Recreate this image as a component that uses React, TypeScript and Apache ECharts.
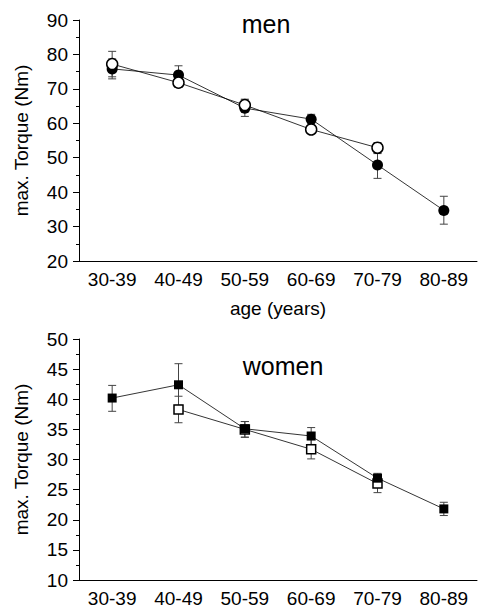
import React, { useEffect, useRef } from "react";
import * as echarts from "echarts";

const categories = ["30-39", "40-49", "50-59", "60-69", "70-79", "80-89"];

// men: filled circles
const menFilled = [75.8, 74.0, 64.4, 61.2, 47.9, 34.7];
const menFilledLow = [72.9, 71.3, 62.0, 59.8, 44.0, 30.7];
const menFilledHigh = [78.7, 76.7, 66.8, 62.6, 51.2, 38.8];
// men: open circles
const menOpen = [77.2, 71.8, 65.3, 58.2, 52.9, null];
const menOpenLow = [73.5, 70.4, 63.6, 57.3, 51.4, null];
const menOpenHigh = [80.9, 73.2, 67.0, 59.1, 54.4, null];

// women: filled squares
const womenFilled = [40.2, 42.4, 35.1, 33.9, 26.9, 21.8];
const womenFilledLow = [38.0, 39.0, 33.7, 32.5, 26.2, 20.7];
const womenFilledHigh = [42.3, 45.9, 36.3, 35.3, 27.7, 22.9];
// women: open squares
const womenOpen = [null, 38.3, 35.0, 31.7, 26.0, null];
const womenOpenLow = [null, 36.1, 33.7, 30.1, 24.5, null];
const womenOpenHigh = [null, 40.5, 36.3, 33.3, 27.5, null];

const menTicks = { min: 20, max: 90, interval: 10 };
const womenTicks = { min: 10, max: 50, interval: 5 };

const FONT = "'Liberation Sans', Arial, sans-serif";

function errData(low: (number | null)[], high: (number | null)[]) {
  const out: number[][] = [];
  low.forEach((l, i) => {
    const h = high[i];
    if (l != null && h != null) out.push([i, l, h]);
  });
  return out;
}

function errSeries(low: (number | null)[], high: (number | null)[], idx: number) {
  return {
    type: "custom",
    xAxisIndex: idx === 0 ? 0 : 1,
    yAxisIndex: idx,
    silent: true,
    z: 1,
    data: errData(low, high),
    renderItem: (params: any, api: any) => {
      const x = api.value(0);
      const p1 = api.coord([x, api.value(1)]);
      const p2 = api.coord([x, api.value(2)]);
      const w = 4;
      const style = { stroke: "#444", lineWidth: 1 };
      return {
        type: "group",
        children: [
          { type: "line", shape: { x1: p1[0], y1: p1[1], x2: p2[0], y2: p2[1] }, style },
          { type: "line", shape: { x1: p1[0] - w, y1: p1[1], x2: p1[0] + w, y2: p1[1] }, style },
          { type: "line", shape: { x1: p2[0] - w, y1: p2[1], x2: p2[0] + w, y2: p2[1] }, style },
        ],
      };
    },
  };
}

function lineSeries(data: (number | null)[], idx: number, symbol: string, size: number, filled: boolean, z: number) {
  return {
    type: "line",
    xAxisIndex: idx === 0 ? 0 : 1,
    yAxisIndex: idx,
    data,
    symbol,
    symbolSize: size,
    showSymbol: true,
    showAllSymbol: true,
    silent: true,
    z,
    lineStyle: { color: "#000", width: 0.8 },
    itemStyle: filled
      ? { color: "#000", borderColor: "#000", borderWidth: 0 }
      : { color: "#fff", borderColor: "#000", borderWidth: 1.5 },
    emphasis: { disabled: true },
  };
}

const yAxisBase = {
  type: "value",
  nameLocation: "middle",
  name: "max. Torque (Nm)",
  nameGap: 48,
  nameTextStyle: { fontSize: 19, color: "#000", fontFamily: FONT },
  axisLine: { show: true, lineStyle: { color: "#000", width: 1 } },
  axisTick: { show: true, length: 6, lineStyle: { color: "#000" } },
  minorTick: { show: true, splitNumber: 2, length: 3, lineStyle: { color: "#000" } },
  splitLine: { show: false },
  axisLabel: { fontSize: 19, color: "#000", fontFamily: FONT, margin: 11 },
};

const xLabel = { fontSize: 19, color: "#000", fontFamily: FONT, margin: 9, interval: 0 };

export default function App() {
  const ref = useRef<HTMLDivElement>(null);
  useEffect(() => {
    if (!ref.current) return;
    const chart = echarts.init(ref.current, undefined, { renderer: "svg" });
    chart.setOption({
      animation: false,
      backgroundColor: "#fff",
      textStyle: { fontFamily: FONT },
      grid: [
        { left: 79, top: 20, width: 398, height: 241 },
        { left: 79, top: 339, width: 398, height: 241 },
      ],
      xAxis: [
        {
          type: "category",
          gridIndex: 0,
          data: categories,
          boundaryGap: true,
          position: "bottom",
          axisLine: { lineStyle: { color: "#000", width: 1 } },
          axisTick: { alignWithLabel: true, interval: 0, length: 5, lineStyle: { color: "#000" } },
          axisLabel: xLabel,
          name: "age (years)",
          nameLocation: "middle",
          nameGap: 38,
          nameTextStyle: { fontSize: 19, color: "#000", fontFamily: FONT },
        },
        {
          type: "category",
          gridIndex: 1,
          data: categories,
          boundaryGap: true,
          position: "bottom",
          axisLine: { lineStyle: { color: "#000", width: 1 } },
          axisTick: { alignWithLabel: true, interval: 0, length: 5, lineStyle: { color: "#000" } },
          axisLabel: xLabel,
        },
        {
          type: "category",
          gridIndex: 1,
          data: categories,
          boundaryGap: true,
          position: "bottom",
          axisLine: { show: false },
          axisTick: { alignWithLabel: false, interval: 0, length: 2.5, lineStyle: { color: "#000" } },
          axisLabel: { show: false },
        },
      ],
      yAxis: [
        { ...yAxisBase, gridIndex: 0, ...menTicks },
        { ...yAxisBase, gridIndex: 1, ...womenTicks },
      ],
      graphic: [
        {
          type: "text",
          x: 266,
          y: 24,
          style: { text: "men", fontSize: 25, fill: "#000", fontFamily: FONT, align: "center", verticalAlign: "middle" },
        },
        {
          type: "text",
          x: 283,
          y: 366,
          style: { text: "women", fontSize: 25, fill: "#000", fontFamily: FONT, align: "center", verticalAlign: "middle" },
        },
      ],
      series: [
        errSeries(menFilledLow, menFilledHigh, 0),
        errSeries(menOpenLow, menOpenHigh, 0),
        lineSeries(menFilled, 0, "circle", 11, true, 2),
        lineSeries(menOpen, 0, "circle", 11, false, 3),
        errSeries(womenFilledLow, womenFilledHigh, 1),
        errSeries(womenOpenLow, womenOpenHigh, 1),
        lineSeries(womenOpen, 1, "rect", 9, false, 2),
        lineSeries(womenFilled, 1, "rect", 9, true, 3),
      ],
    });
    return () => chart.dispose();
  }, []);
  return (
    <div
      ref={ref}
      style={{ position: "absolute", left: 0, top: 0, width: 487, height: 616, background: "#fff" }}
    />
  );
}
